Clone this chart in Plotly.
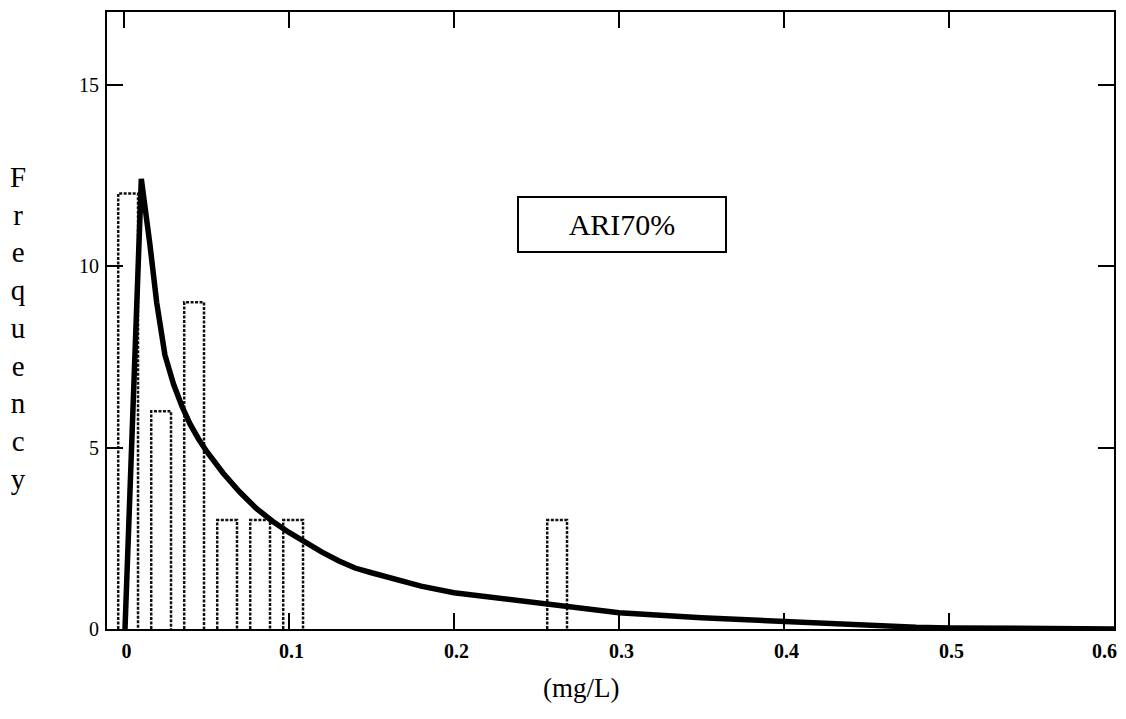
import plotly.graph_objects as go

# Histogram bins (mg/L) and frequencies
bin_centers = [0.0025, 0.0225, 0.0425, 0.0625, 0.0825, 0.1025, 0.2625]
frequencies = [12, 6, 9, 3, 3, 3, 3]
bin_width = 0.012

# Fitted distribution curve
curve_x = [0.0006, 0.0105, 0.0157, 0.0198, 0.0248, 0.03, 0.035, 0.04, 0.045, 0.05,
           0.06, 0.07, 0.08, 0.09, 0.1, 0.11, 0.12, 0.13, 0.14, 0.15, 0.16, 0.18, 0.2,
           0.225, 0.25, 0.275, 0.3, 0.35, 0.4, 0.45, 0.48, 0.5, 0.55, 0.6]
curve_y = [0, 12.4, 10.6, 9.0, 7.55, 6.75, 6.15, 5.65, 5.25, 4.9,
           4.3, 3.78, 3.33, 2.97, 2.66, 2.38, 2.12, 1.88, 1.68, 1.55, 1.42, 1.18, 1.0,
           0.86, 0.71, 0.57, 0.45, 0.31, 0.2, 0.11, 0.05, 0.03, 0.0, 0.0]

x_ticks = [0, 0.1, 0.2, 0.3, 0.4, 0.5, 0.6]
x_tick_labels = ["0", "0.1", "0.2", "0.3", "0.4", "0.5", "0.6"]
y_ticks = [0, 5, 10, 15]
y_tick_labels = ["0", "5", "10", "15"]

label_text = "ARI70%"
y_title = "Frequency"
x_title = "(mg/L)"

NB = "\u00a0"
# last label is drawn separately so it stays inside the frame
x_text = [NB + t for t in x_tick_labels[:-1]] + [""]

# Build dotted bar outlines
bx, by = [], []
for c, f in zip(bin_centers, frequencies):
    l, r = c - bin_width / 2, c + bin_width / 2
    bx += [l, l, r, r, None]
    by += [0, f, f, 0, None]

fig = go.Figure()
fig.add_trace(go.Scatter(x=bx, y=by, mode="lines",
                         line=dict(color="#111111", width=2.5, dash="3px,1.5px"),
                         hoverinfo="skip", showlegend=False))
fig.add_trace(go.Scatter(x=curve_x, y=curve_y, mode="lines",
                         line=dict(color="black", width=5.5),
                         showlegend=False))

font_family = "Liberation Serif, Times New Roman, serif"
xfont = dict(family=font_family, size=20, color="black", weight="bold")

axis_common = dict(ticks="inside", ticklen=16, tickwidth=2, tickcolor="black",
                   showline=True, linecolor="black", linewidth=2, mirror="allticks",
                   showgrid=False, zeroline=False)
fig.update_xaxes(range=[-0.0103, 0.6], tickvals=x_ticks, ticktext=x_text,
                 ticklabelstandoff=3, tickfont=xfont, **axis_common)
fig.update_yaxes(range=[0, 17], tickvals=y_ticks, ticktext=y_tick_labels,
                 ticklabelstandoff=2,
                 tickfont=dict(family=font_family, size=20, color="black"),
                 **axis_common)

# Page offset (browser body margin) and figure size
OFF = 8
W, H = 1110, 703
L, R, T, B = 99, 2, 2, 82
pw, ph = W - L - R, H - T - B

def to_paper(px, py):
    fx, fy = px - OFF, py - OFF
    return (fx - L) / pw, (H - B - fy) / ph

# last x tick label, pulled inside the right edge
lx, ly = to_paper(1106, 651)
fig.add_annotation(x=lx, y=ly, xref="paper", yref="paper", text=x_tick_labels[-1],
                   xanchor="center", yanchor="middle", showarrow=False, font=xfont)

ax, ay = to_paper(623, 223.5)
fig.add_annotation(x=ax, y=ay, xref="paper", yref="paper", text=label_text,
                   xanchor="center", yanchor="middle",
                   showarrow=False, font=dict(family=font_family, size=30, color="black"),
                   bordercolor="black", borderwidth=2, borderpad=1,
                   bgcolor="white", width=204, height=51)

fx_, fy_ = to_paper(18, 327)
fig.add_annotation(x=fx_, y=fy_, xref="paper", yref="paper", text="<br>".join(list(y_title)),
                   xanchor="center", yanchor="middle",
                   showarrow=False, font=dict(family=font_family, size=29, color="black"),
                   align="center")
tx, ty = to_paper(582, 688)
fig.add_annotation(x=tx, y=ty, xref="paper", yref="paper", text=x_title,
                   xanchor="center", yanchor="middle",
                   showarrow=False, font=dict(family=font_family, size=27, color="black"))

fig.update_layout(width=W, height=H, margin=dict(l=L, r=R, t=T, b=B),
                  plot_bgcolor="white", paper_bgcolor="white")

fig.write_html("out.html")
